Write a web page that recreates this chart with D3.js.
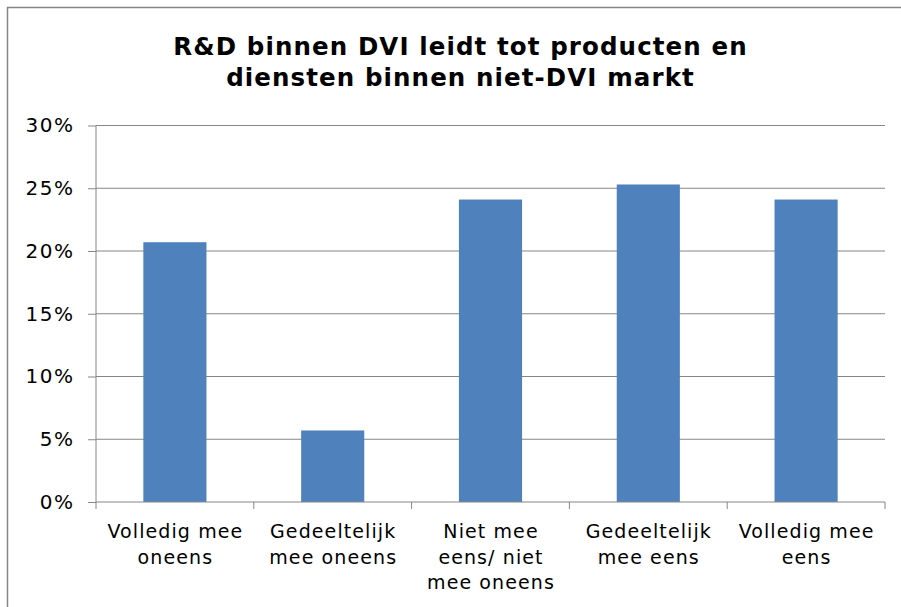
<!DOCTYPE html>
<html><head><meta charset="utf-8">
<script src="https://cdn.jsdelivr.net/npm/d3@7"></script>
<style>body{margin:0;background:#fff}svg{display:block}</style>
</head><body>
<svg id="c" width="901" height="607"></svg>
<script>
const categories = [
  ["Volledig mee", "oneens"],
  ["Gedeeltelijk", "mee oneens"],
  ["Niet mee", "eens/ niet", "mee oneens"],
  ["Gedeeltelijk", "mee eens"],
  ["Volledig mee", "eens"]
];
const values = [20.7, 5.7, 24.1, 25.3, 24.1];
const yTicks = [0, 5, 10, 15, 20, 25, 30];
const titleLines = ["R&D binnen DVI leidt tot producten en", "diensten binnen niet-DVI markt"];

const svg = d3.select("#c");
const font = "'DejaVu Sans', Verdana, sans-serif";
const grey = "#868686";

// outer border
svg.append("rect").attr("x", 7.5).attr("y", 7.5).attr("width", 910).attr("height", 620)
  .attr("fill", "none").attr("stroke", grey).attr("stroke-width", 1.5);

const pLeft = 96, pRight = 885, pTop = 125.5, pBottom = 502;
const x = d3.scaleBand().domain(d3.range(categories.length)).range([pLeft, pRight]).paddingInner(0.6).paddingOuter(0.3);
const xb = d3.scaleBand().domain(d3.range(categories.length)).range([pLeft, pRight]);
const y = d3.scaleLinear().domain([0, 30]).range([pBottom, pTop]);

// gridlines
svg.append("g").selectAll("line").data(yTicks.filter(d => d > 0)).join("line")
  .attr("x1", pLeft).attr("x2", pRight).attr("y1", d => y(d)).attr("y2", d => y(d))
  .attr("stroke", grey).attr("stroke-width", 1);

// bars
svg.append("g").selectAll("rect").data(values).join("rect")
  .attr("x", (d, i) => x(i)).attr("width", x.bandwidth())
  .attr("y", d => y(d)).attr("height", d => y(0) - y(d))
  .attr("fill", "#4F81BD");

// y axis
const yAxis = d3.axisLeft(y).tickValues(yTicks).tickSize(8).tickPadding(13.5).tickFormat(d => d + "%");
const gy = svg.append("g").attr("transform", `translate(${pLeft},0)`).call(yAxis);
gy.select(".domain").attr("stroke", grey).attr("d", `M0,${pTop}V${pBottom}`);
gy.selectAll(".tick line").attr("stroke", grey);
gy.selectAll(".tick text").attr("font-family", font).attr("font-size", 20)
  .attr("letter-spacing", 1.5).attr("fill", "#000");

// x axis
const gx = svg.append("g").attr("transform", `translate(0,${pBottom})`);
gx.append("line").attr("x1", pLeft).attr("x2", pRight).attr("stroke", grey).attr("stroke-width", 1);
const bounds = xb.domain().map(i => xb(i)).concat([pRight]);
gx.selectAll("line.t").data(bounds).join("line").attr("class", "t")
  .attr("x1", d => d).attr("x2", d => d).attr("y1", 0).attr("y2", 7).attr("stroke", grey);
gx.selectAll("text.lab").data(categories).join("text").attr("class", "lab")
  .attr("x", (d, i) => xb(i) + xb.bandwidth() / 2 + 0.5).attr("y", 36)
  .attr("text-anchor", "middle").attr("font-family", font).attr("font-size", 19)
  .attr("letter-spacing", 1.1).attr("fill", "#000")
  .each(function(d) {
    const cx = d3.select(this).attr("x");
    d3.select(this).selectAll("tspan").data(d).join("tspan")
      .attr("x", cx).attr("dy", (t, j) => j === 0 ? 0 : 25.5).text(t => t);
  });

// title
svg.append("text").attr("text-anchor", "middle").attr("font-family", font).attr("font-weight", "bold")
  .attr("font-size", 24.5).attr("letter-spacing", 1.1).attr("fill", "#000")
  .selectAll("tspan").data(titleLines).join("tspan")
  .attr("x", 460.5).attr("y", (d, i) => 55 + i * 31).text(d => d);
</script>
</body></html>
